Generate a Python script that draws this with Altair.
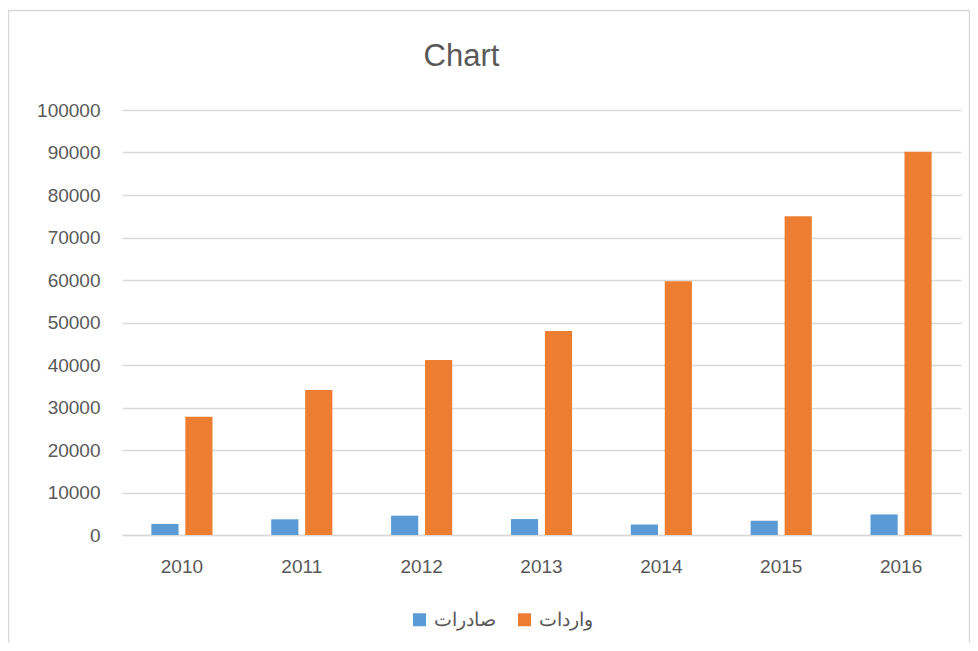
import altair as alt
import pandas as pd

years = ["2010", "2011", "2012", "2013", "2014", "2015", "2016"]
series_names = ["صادرات", "واردات"]
exports = [2600, 3700, 4550, 3750, 2500, 3350, 4850]
imports = [27800, 34100, 41200, 48000, 59700, 75000, 90200]
y_ticks = [0, 10000, 20000, 30000, 40000, 50000, 60000, 70000, 80000, 90000, 100000]
colors = ["#5B9BD5", "#ED7D31"]

rows = []
for i, yr in enumerate(years):
    rows.append({"year": yr, "series": series_names[0], "value": exports[i]})
    rows.append({"year": yr, "series": series_names[1], "value": imports[i]})
df = pd.DataFrame(rows)

FONT = "Liberation Sans"
TXT = "#595959"

bars = alt.Chart(df).mark_bar().encode(
    x=alt.X("year:N", sort=years, title=None,
            scale=alt.Scale(paddingInner=0.49, paddingOuter=0.245),
            axis=alt.Axis(labelAngle=0, ticks=False, domain=True, domainColor="#d9d9d9",
                          domainWidth=1.5, labelFont=FONT, labelFontSize=19,
                          labelColor=TXT, labelPadding=22, grid=False)),
    xOffset=alt.XOffset("series:N", sort=series_names,
                        scale=alt.Scale(paddingInner=0.2, paddingOuter=0)),
    y=alt.Y("value:Q", title=None,
            scale=alt.Scale(domain=[0, 100000], nice=False),
            axis=alt.Axis(values=y_ticks, format="d", ticks=False, domain=False,
                          gridColor="#d9d9d9", gridWidth=1.5, labelFont=FONT,
                          labelFontSize=19, labelColor=TXT, labelPadding=22)),
    color=alt.Color("series:N", sort=series_names,
                    scale=alt.Scale(domain=series_names, range=colors),
                    legend=alt.Legend(title=None, orient="none", direction="horizontal",
                                      legendX=288, legendY=500, symbolType="square",
                                      symbolSize=169, symbolStrokeWidth=0,
                                      labelFont=FONT, labelFontSize=19, labelColor=TXT,
                                      labelOffset=5, columnPadding=19)),
)

frame = alt.Chart(pd.DataFrame({"k": [0]})).mark_rect(
    fill=None, stroke="#d9d9d9", strokeWidth=1.5
).encode(
    x=alt.value(-113.5), x2=alt.value(847.5), y=alt.value(-99.5), y2=alt.value(560)
)

chart = alt.layer(frame, bars).properties(
    width=839, height=425,
    title=alt.TitleParams("Chart", font=FONT, fontSize=31, fontWeight="normal",
                          color=TXT, anchor="middle", frame="group", dx=-80, offset=-63),
    autosize=alt.AutoSizeParams(type="none"),
    padding={"left": 114, "top": 102, "right": 9, "bottom": 108},
).configure_view(stroke=None)

chart.save("out.html", embed_options={"renderer": "svg", "actions": False})
